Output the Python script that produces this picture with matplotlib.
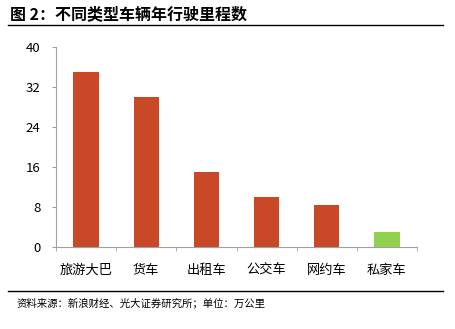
import matplotlib
matplotlib.use("Agg")
import matplotlib.pyplot as plt
from matplotlib.lines import Line2D

plt.rcParams['font.family'] = ['Noto Sans CJK SC', 'DejaVu Sans']

categories = ["旅游大巴", "货车", "出租车", "公交车", "网约车", "私家车"]
mileage = [35, 30, 15, 10, 8.5, 3]
bar_colors = ["#C84828", "#C84828", "#C84828", "#C84828", "#C84828", "#92D050"]
yticks = [0, 8, 16, 24, 32, 40]

fig = plt.figure(figsize=(4.55, 3.29), dpi=100)
ax = fig.add_axes([56 / 455, 1 - 247 / 329, 361 / 455, 200 / 329])

x = list(range(len(categories)))
ax.bar(x, mileage, width=0.42, color=bar_colors)

ax.set_xlim(-0.5, len(categories) - 0.5)
ax.set_ylim(0, 40)
ax.set_yticks(yticks)
ax.set_xticks(x)
ax.set_xticklabels(categories, fontsize=9.5)
ax.set_xticks([i + 0.5 for i in range(-1, len(categories))], minor=True)
ax.tick_params(axis='x', which='major', length=0, pad=12)
ax.tick_params(axis='x', which='minor', length=3, color='#a0a0a0', direction='out')
ax.tick_params(axis='y', length=3, color='#a0a0a0', labelsize=9.5, pad=8)

for s in ['top', 'right']:
    ax.spines[s].set_visible(False)
for s in ['left', 'bottom']:
    ax.spines[s].set_color('#a0a0a0')
    ax.spines[s].set_linewidth(0.8)

# title and rules
fig.text(10 / 455, 1 - 14 / 329, "图 2：不同类型车辆年行驶里程数", fontsize=11.5,
         fontweight='bold', va='center', ha='left')
fig.add_artist(Line2D([8 / 455, 443 / 455], [1 - 25 / 329, 1 - 25 / 329],
                      color='black', linewidth=1.0))
fig.add_artist(Line2D([8 / 455, 443 / 455], [1 - 291 / 329, 1 - 291 / 329],
                      color='black', linewidth=1.0))
fig.text(17 / 455, 1 - 303 / 329, "资料来源：新浪财经、光大证券研究所；单位：万公里",
         fontsize=7.5, va='center', ha='left')

fig.savefig("out.png", dpi=100)
